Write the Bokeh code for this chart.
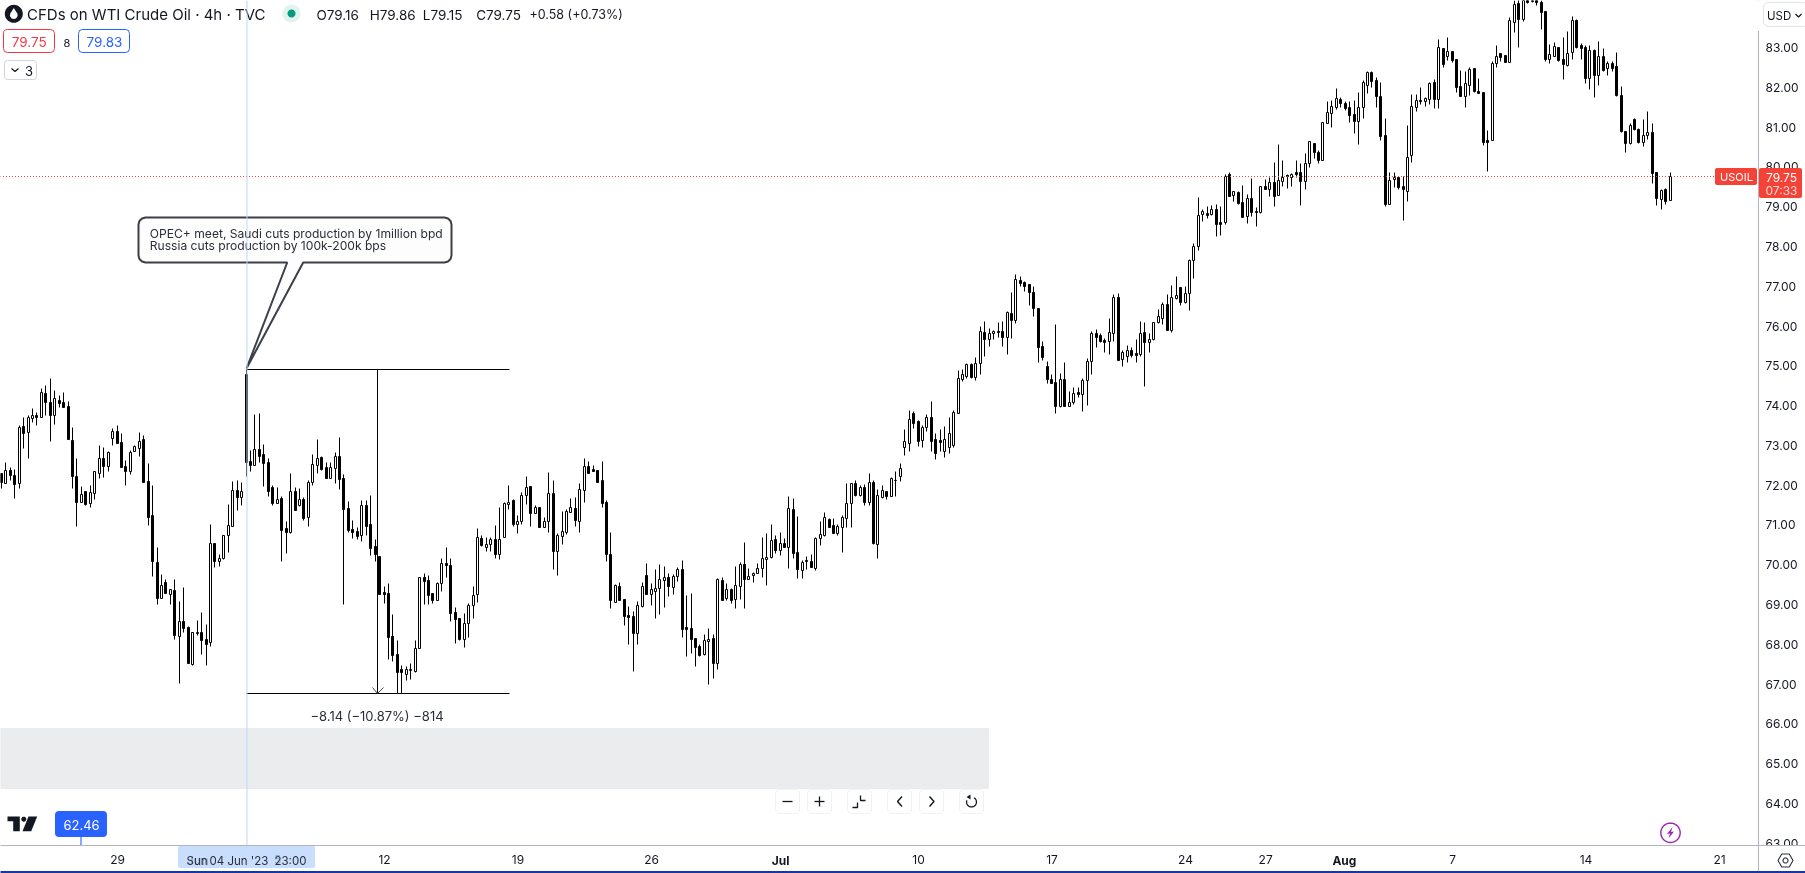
import math
from bokeh.plotting import figure
from bokeh.embed import file_html
from bokeh.resources import INLINE
from bokeh.models import (LinearAxis, FixedTicker, Label, BoxAnnotation, PolyAnnotation,
                          ColumnDataSource, NumeralTickFormatter)

highs = [
72.29,72.57,72.44,72.39,73.50,73.69,73.75,73.92,73.83,74.42,
74.50,74.68,74.38,74.25,74.33,74.10,73.44,72.67,71.97,71.85,
71.99,72.34,73.00,72.94,72.85,73.42,73.50,73.30,72.62,72.87,
72.99,73.32,73.25,72.54,71.99,70.43,69.75,69.63,69.37,69.63,
69.08,69.43,68.45,68.31,68.60,68.80,68.50,71.01,70.53,70.25,
70.74,71.51,72.09,72.13,72.08,74.90,72.86,73.78,73.80,73.02,
72.67,71.99,71.94,71.72,71.08,72.29,71.95,71.91,71.70,72.13,
72.77,73.16,72.71,72.57,72.57,72.82,73.21,72.26,71.58,71.11,
70.94,71.61,71.61,71.74,70.63,70.21,69.45,69.53,68.75,68.10,
67.47,67.44,67.51,68.10,69.67,69.77,69.73,69.29,69.55,70.17,
70.43,70.15,68.92,68.66,68.78,69.02,69.45,70.90,70.73,70.68,
70.69,70.99,71.44,71.56,71.99,71.63,71.24,71.82,72.22,71.97,
71.49,71.45,71.20,72.32,72.13,70.78,71.34,71.38,71.67,71.68,
72.03,72.67,72.60,72.49,72.38,72.60,71.61,70.81,69.51,69.55,
69.12,68.95,68.83,69.07,69.55,70.03,69.52,69.88,70.01,69.95,
69.77,69.75,69.92,70.11,69.22,69.28,68.14,67.99,68.25,68.39,
68.26,69.66,69.67,69.52,69.40,69.95,70.05,70.56,69.90,69.80,
70.02,70.69,70.79,71.01,70.73,70.81,70.65,71.72,71.66,71.21,
70.11,70.21,70.26,70.68,71.09,71.31,71.16,71.16,71.00,71.23,
72.03,72.05,72.12,71.98,72.02,72.29,72.13,71.88,71.99,71.83,
72.19,72.34,72.55,73.39,73.88,73.85,73.63,73.50,73.78,74.11,
73.30,73.40,73.47,73.69,73.88,74.88,74.91,75.07,75.07,75.20,
76.00,76.11,75.95,75.89,76.09,76.11,76.36,76.84,77.30,77.25,
77.12,77.04,76.99,76.44,75.61,75.11,74.77,76.04,74.80,75.08,
74.36,74.45,74.45,74.67,75.18,75.86,75.91,75.80,75.68,76.19,
76.79,76.82,75.38,75.51,75.45,75.66,76.11,76.09,75.80,76.10,
76.42,76.58,76.79,77.02,77.25,76.98,76.99,77.66,78.07,79.23,
78.94,79.00,79.03,79.05,79.00,79.81,79.85,79.38,79.37,79.52,
79.30,79.71,78.99,79.50,79.68,79.74,80.10,80.55,80.16,79.82,
79.83,80.16,80.08,80.33,80.65,80.59,80.42,81.12,81.64,81.67,
81.97,81.74,81.64,81.64,81.67,81.86,82.16,82.40,82.40,82.24,
82.11,81.21,79.87,79.87,79.77,79.76,81.03,81.81,81.81,81.99,
81.75,82.12,82.20,83.20,82.97,83.25,82.90,82.70,82.42,82.40,
82.50,82.47,82.21,81.87,80.91,82.65,83.05,82.84,82.80,83.75,
84.18,84.22,84.35,84.40,84.45,84.40,84.18,83.90,83.07,83.12,
83.00,83.26,83.41,83.79,83.70,83.09,83.05,83.04,82.96,83.14,
82.97,82.66,82.65,82.87,82.02,80.89,81.10,81.21,80.96,81.18,
81.38,81.10,79.86,79.42,79.46,79.86]

body_tops = [
72.29,72.36,72.36,72.24,73.44,73.47,73.69,73.74,73.74,74.32,
74.31,74.08,74.17,74.14,74.08,73.98,73.12,72.22,71.76,71.83,
71.81,72.34,72.66,72.66,72.81,73.34,73.34,73.07,72.47,72.81,
72.96,73.11,73.15,72.09,71.24,70.06,69.47,69.55,69.37,69.35,
68.57,68.57,68.42,68.29,68.29,68.29,68.11,70.53,70.53,70.17,
70.73,70.98,71.86,71.87,71.83,74.78,72.59,72.89,72.90,72.76,
72.56,71.93,71.63,71.66,70.90,71.83,71.83,71.65,71.64,72.08,
72.51,72.66,72.70,72.44,72.44,72.71,72.71,72.16,71.41,70.88,
70.83,71.48,71.48,71.00,70.45,70.20,69.30,69.29,68.19,67.74,
67.36,67.36,67.37,67.89,69.67,69.67,69.60,69.28,69.54,70.02,
70.02,69.98,68.79,68.64,68.53,68.97,69.24,70.68,70.65,70.50,
70.63,70.63,70.64,71.53,71.57,71.61,71.10,71.73,71.93,71.96,
71.43,71.43,71.10,71.78,71.78,70.73,70.83,71.33,71.43,71.41,
71.88,72.47,72.47,72.39,72.36,72.12,71.56,70.27,69.47,69.45,
69.12,68.72,68.69,68.97,69.45,69.72,69.37,69.41,69.62,69.67,
69.67,69.70,69.87,69.87,68.42,68.39,68.14,67.94,68.09,68.13,
68.14,69.62,69.60,69.37,69.37,69.47,70.00,70.00,69.71,69.79,
69.90,70.15,70.19,70.60,70.63,70.53,70.53,71.41,71.38,70.30,
70.05,70.11,70.07,70.65,70.75,71.18,71.15,70.98,70.95,71.20,
71.53,72.03,72.03,71.93,71.94,72.08,72.08,71.73,71.86,71.83,
72.17,72.13,72.42,73.10,73.64,73.79,73.60,73.44,73.69,73.70,
73.15,73.12,73.15,73.30,73.82,74.67,74.77,75.03,75.03,75.07,
75.85,75.84,75.80,75.86,75.86,75.86,76.34,76.31,77.17,77.14,
77.09,77.04,76.84,76.44,75.48,74.98,74.66,74.58,74.65,74.66,
74.07,74.30,74.33,74.62,75.10,75.80,75.80,75.75,75.64,75.83,
76.71,76.71,75.33,75.38,75.39,75.30,75.80,75.84,75.65,76.08,
76.23,76.53,76.53,76.71,76.76,76.97,76.81,77.65,77.99,78.79,
78.88,78.82,78.92,78.92,78.60,79.77,79.80,79.37,79.35,79.10,
79.20,79.20,78.88,79.50,79.50,79.61,79.61,79.65,79.74,79.78,
79.81,79.85,79.85,80.08,80.63,80.58,80.35,81.11,81.36,81.51,
81.71,81.69,81.59,81.49,81.31,81.48,82.11,82.37,82.37,82.17,
81.77,80.78,79.67,79.74,79.74,79.50,80.23,81.51,81.66,81.68,
81.71,82.09,82.11,82.99,82.97,82.90,82.89,82.69,82.02,82.09,
82.45,82.46,81.89,81.86,80.66,82.61,82.77,82.84,82.79,83.67,
84.08,84.10,84.18,84.30,84.35,84.32,84.14,83.90,82.82,83.02,
82.99,82.69,82.84,83.67,83.68,83.05,83.00,82.92,82.92,82.77,
82.77,82.61,82.59,82.51,81.80,80.88,81.03,81.19,80.94,80.78,
80.86,80.86,79.85,79.40,79.42,79.75]

body_bottoms = [
72.08,72.05,72.25,72.02,72.03,73.31,73.32,73.68,73.71,73.71,
74.09,73.76,73.76,74.06,73.96,73.14,72.23,71.57,71.57,71.51,
71.53,71.78,72.30,72.47,72.48,73.18,73.06,72.45,72.35,72.35,
72.84,72.91,72.08,71.20,70.07,69.16,69.14,69.29,69.26,68.21,
68.19,68.41,67.53,67.49,68.27,68.10,68.00,68.05,70.09,70.09,
70.16,70.73,70.97,71.70,71.70,72.58,72.50,72.50,72.73,72.55,
71.85,71.55,71.55,70.87,70.82,70.81,71.37,71.49,71.17,71.18,
72.08,72.49,72.39,72.18,72.18,72.41,72.15,71.40,70.86,70.81,
70.71,70.73,70.97,70.42,70.27,69.26,69.26,68.18,67.73,67.30,
67.28,67.25,67.35,67.33,67.89,69.59,69.24,69.11,69.11,69.54,
69.99,68.78,68.63,68.12,68.13,68.53,68.97,69.26,70.49,70.44,
70.50,70.27,70.27,70.68,71.52,71.02,71.02,71.10,71.73,71.30,
71.30,70.94,70.94,71.10,70.34,70.34,70.72,70.82,71.32,71.12,
71.10,71.87,72.30,72.35,72.08,71.55,70.27,69.09,69.06,69.11,
68.71,68.68,68.28,68.28,68.96,69.26,69.26,69.34,69.41,69.61,
69.45,69.44,69.71,68.38,68.38,68.13,67.93,67.72,67.75,68.08,
67.53,67.53,69.09,69.16,69.10,69.12,69.46,69.64,69.64,69.74,
69.79,69.91,70.14,70.18,70.37,70.37,70.44,70.44,70.29,69.89,
69.86,70.07,69.94,69.91,70.67,70.74,70.94,70.79,70.79,70.94,
71.17,71.53,71.74,71.73,71.57,71.57,70.53,70.52,71.70,71.72,
71.72,72.12,72.22,72.95,73.05,73.56,73.10,73.12,73.44,73.10,
72.80,73.08,72.85,72.95,73.00,73.81,74.66,74.73,74.71,74.71,
75.07,75.66,75.67,75.80,75.84,75.72,75.72,76.14,76.15,77.08,
77.00,76.85,76.45,75.47,75.22,74.66,74.56,73.98,73.98,73.98,
73.99,74.09,74.29,74.29,74.62,75.12,75.72,75.61,75.59,75.62,
75.82,75.14,75.17,75.24,75.26,75.27,75.29,75.59,75.59,75.65,
76.10,76.20,75.90,75.90,76.68,76.60,76.60,76.83,77.64,77.99,
78.81,78.78,78.81,78.56,78.56,78.59,79.26,79.29,79.09,78.73,
78.76,78.86,78.86,78.85,79.44,79.44,79.26,79.29,79.63,79.75,
79.74,79.81,79.64,79.64,80.08,80.36,80.16,80.17,81.10,81.35,
81.50,81.60,81.47,81.29,81.14,81.15,81.50,82.04,82.15,81.78,
80.77,79.06,79.06,79.69,79.48,79.42,79.39,80.28,81.48,81.64,
81.64,81.70,81.70,81.70,82.58,82.78,82.67,81.99,81.77,81.77,
82.05,81.90,81.85,80.62,80.62,80.67,82.61,82.76,82.63,82.63,
83.64,83.71,83.70,84.14,84.15,84.12,83.89,82.70,82.71,82.78,
82.68,82.58,82.56,82.87,82.99,82.98,82.21,82.21,82.29,82.29,
82.42,82.48,82.47,81.80,80.88,80.58,80.58,80.93,80.60,80.60,
80.80,79.84,79.21,79.19,79.13,79.16]

lows = [
71.91,72.03,72.12,71.67,71.92,72.91,72.66,73.58,73.50,73.69,
73.75,73.11,73.53,73.96,73.96,73.14,71.91,70.95,71.57,71.50,
71.45,71.65,72.18,72.20,72.35,73.00,73.06,72.45,72.00,72.28,
72.84,72.73,72.08,70.99,69.71,68.99,69.14,69.29,68.99,68.13,
67.01,68.30,67.53,67.48,68.21,67.75,67.48,67.95,69.94,69.96,
70.14,70.30,70.97,71.36,71.50,72.23,72.35,72.50,72.58,71.97,
71.71,71.50,71.55,70.09,70.29,70.79,71.37,71.47,71.11,70.96,
72.00,72.30,72.37,72.18,72.18,72.03,71.90,68.99,70.82,70.66,
70.64,70.59,70.74,70.24,70.07,69.26,69.02,67.62,67.58,66.76,
66.76,67.09,67.12,67.28,67.89,69.01,69.01,69.03,69.11,69.34,
69.69,68.58,68.03,68.10,67.93,68.18,68.66,69.04,70.47,70.33,
70.33,70.17,70.14,70.68,71.39,70.95,70.79,71.01,71.52,70.96,
71.30,70.94,70.94,70.82,69.89,69.74,70.52,70.77,71.32,70.97,
70.81,71.56,72.30,72.34,72.08,71.45,70.07,68.91,69.06,69.11,
68.48,68.00,67.33,68.00,68.93,69.26,68.98,68.66,68.75,68.93,
69.20,69.25,69.58,68.16,67.70,67.78,67.45,67.70,67.73,67.00,
67.15,67.38,69.09,69.09,69.03,68.91,69.13,68.91,69.62,69.56,
69.79,69.68,69.48,70.17,70.28,70.23,70.44,69.91,70.16,69.66,
69.66,69.88,69.94,69.86,70.49,70.72,70.94,70.78,70.74,70.31,
70.94,70.94,71.72,71.72,71.48,71.49,70.51,70.16,71.67,71.65,
71.72,71.72,72.10,72.75,72.85,73.42,72.98,72.95,73.35,72.85,
72.65,72.85,72.70,72.80,72.95,73.81,74.61,74.69,74.69,74.63,
74.78,75.23,75.49,75.66,75.72,75.49,75.28,75.69,76.06,76.99,
76.87,76.52,76.24,75.08,75.13,74.56,74.56,73.80,73.96,73.98,
73.99,74.03,74.20,73.86,74.00,74.78,75.47,75.59,75.34,75.28,
75.62,75.14,74.98,75.08,75.22,75.08,75.23,74.48,75.34,75.64,
76.07,76.04,75.90,75.84,76.67,76.52,76.57,76.39,77.19,77.90,
78.63,78.70,78.78,78.26,78.28,78.56,79.26,79.13,79.05,78.73,
78.58,78.75,78.50,78.84,79.44,79.26,79.00,79.27,79.51,79.46,
79.51,79.74,79.03,79.43,79.98,80.21,80.09,80.17,81.10,80.99,
81.44,81.49,81.42,81.12,80.84,80.56,81.22,81.84,81.99,81.49,
80.66,79.00,79.06,79.48,79.44,78.65,79.13,80.11,81.39,81.58,
81.52,81.57,81.47,81.47,82.50,82.67,82.62,81.87,81.76,81.49,
81.80,81.87,81.85,80.54,79.88,80.67,82.50,82.64,82.63,82.63,
83.38,83.01,83.66,84.10,84.13,84.05,83.44,82.66,82.61,82.78,
82.66,82.20,82.53,82.70,82.98,82.71,82.10,81.95,81.75,82.04,
82.39,82.30,82.40,81.78,80.86,80.37,80.57,80.92,80.58,80.50,
80.69,79.59,79.04,78.94,79.06,79.15]

directions = ("bwbbwbwwbw" "bbwbbbbbwb" "wwwbwwbbbw" "wwbbbbwbwb" "wbbwwbbwbw"
              "wwwbwbbwbb" "bbwbbwbwbw" "wwbbwwbbbb" "bwbbbbbbbb" "bwwwwbbbww"
              "bbbbwwwwbw" "wbwwwbwwwb" "wbwwbwwwwb" "wwbbbbbbwb" "bbbwwbwwww"
              "bwwbbbbbww" "bwbwbwwbww" "wwwwbwbwbb" "wbbwwwbbww" "wwbwbwbwwb"
              "wwwwwbbwwb" "bbwwwwwwbw" "wbwwbbwbwb" "bbbbbbbbwb" "wwbwwwbbbw"
              "wbwwbbwbww" "wwbwwbwwww" "wbwbbwbwbb" "wbbwbwbwwb" "wbbwwbbwww"
              "wbbbbwwwbb" "bbwwbbwwwb" "wwbwbwbbbw" "wbbbbwwbbw" "wbwbwbbbww"
              "bbwwbbbwbw" "bwbbbbwbbw" "wbbwbw")

price_ticks = list(range(63, 84))
time_ticks = [26, 62, 86, 116, 146, 206, 236, 266, 284, 326, 356, 386]
time_labels = ["29", "5", "12", "19", "26", "10", "17", "24", "27", "7", "14", "21"]
month_ticks = [44, 175, 301.7]
month_labels = ["Jun", "Jul", "Aug"]
last_price = 79.75
measure_high = 74.90
measure_low = 66.76

W, H = 1805, 873
FW, FH = 1758, 845
PX0, PXS = 1.33, 4.45
PPU = 39.79


def BX(px):
    return (px - PX0) / PXS


def BY(py):
    return 83 - (py - 47) / PPU


def PY(price):
    return 47 + (83 - price) * PPU


FIXED = {"position": "fixed", "left": "0px", "top": "0px"}
p = figure(width=W, height=H, output_backend="svg", toolbar_location=None,
           x_range=(BX(0), BX(FW)), y_range=(BY(FH), BY(0)),
           x_axis_location=None, y_axis_location=None,
           min_border_left=0, min_border_top=0, min_border_right=W - FW, min_border_bottom=H - FH,
           tools="", background_fill_color="white", border_fill_color="white",
           outline_line_color=None)
p.styles = FIXED
p.grid.visible = False

# overlay in page pixels for everything that sits over the scales
q = figure(width=W, height=H, output_backend="svg", toolbar_location=None,
           x_range=(0, W), y_range=(H, 0), x_axis_location=None, y_axis_location=None,
           min_border_left=0, min_border_top=0, min_border_right=0, min_border_bottom=0,
           tools="", background_fill_color=None, border_fill_color=None, outline_line_color=None)
q.styles = FIXED
q.grid.visible = False

FONT = "Inter"
AXC = "#b2b5be"
INK = "#131722"

ya = LinearAxis(ticker=FixedTicker(ticks=price_ticks), formatter=NumeralTickFormatter(format="0.00"),
                major_tick_line_color=None, minor_tick_line_color=None, axis_line_color=AXC,
                major_tick_out=0, major_tick_in=0,
                major_label_text_font=FONT, major_label_text_font_size="12px", major_label_text_color=INK,
                major_label_standoff=7)
p.add_layout(ya, "right")
xa = LinearAxis(ticker=FixedTicker(ticks=time_ticks),
                major_label_overrides={t: l for t, l in zip(time_ticks, time_labels)},
                major_tick_line_color=None, minor_tick_line_color=None, axis_line_color=AXC,
                major_tick_out=0, major_tick_in=0,
                major_label_text_font=FONT, major_label_text_font_size="12px", major_label_text_color=INK,
                major_label_standoff=9)
p.add_layout(xa, "below")


def box(x0, y0, x1, y1, fill, line=None, r=0, lw=1):
    d = 0 if line else 0.5
    b = BoxAnnotation(left=x0 - d, right=x1 - d, top=y0 - d, bottom=y1 - d, fill_color=fill, fill_alpha=1,
                      line_color=line, line_alpha=1 if line else 0, line_width=lw, border_radius=r)
    q.add_layout(b)
    return b


def poly(pts, fill=None, line=None, lw=1.0):
    a = PolyAnnotation(xs=[c[0] for c in pts], ys=[c[1] for c in pts],
                       fill_color=fill if fill else "white", fill_alpha=1 if fill else 0,
                       line_color=line if line else "white", line_alpha=1 if line else 0, line_width=lw)
    q.add_layout(a)
    return a


def path(pts, line=INK, lw=1.0):
    return poly(list(pts) + list(pts[-2:0:-1]), None, line, lw)


def circle(cx, cy, r, fill=None, line=None, lw=1.0, n=36):
    pts = [(cx + r * math.cos(2 * math.pi * k / n), cy + r * math.sin(2 * math.pi * k / n)) for k in range(n)]
    return poly(pts, fill, line, lw)


def T(x, y, text, size=13.0, color=INK, align="left", style="normal"):
    q.add_layout(Label(x=x, y=y, text=text, text_font=FONT, text_font_size=f"{size}px", text_color=color,
                       text_align=align, text_baseline="middle", text_font_style=style))


# candles, snapped to the pixel grid the way the original renderer does
xs = [BX(math.floor(PX0 + PXS * i)) for i in range(len(highs))]


def snap(price):
    return BY(round(PY(price)))


up = [d == "w" for d in directions]
src = ColumnDataSource(dict(
    x=xs,
    h=[snap(v) for v in highs],
    l=[snap(v) for v in lows],
    t=[snap(v) for v in body_tops],
    b=[snap(v) for v in body_bottoms],
    f=["white" if u else "black" for u in up],
))
p.segment(x0="x", y0="h", x1="x", y1="l", source=src, line_color="black", line_width=1)
p.vbar(x="x", width=2 / PXS, top="t", bottom="b", fill_color="f", line_color="black", line_width=1, source=src)

# last price line: the dash phase starts half a pixel left so each dot fills one whole pixel
p.line(x=[BX(-0.5), BX(FW)], y=[snap(last_price), snap(last_price)], line_color="#f44336", line_width=1,
       line_dash="1 2")

# measure tool
y_hi, y_lo = round(PY(measure_high)), round(PY(measure_low))
xl, xr, xm = BX(246), BX(509), BX(377)
p.segment(x0=[xl, xl], x1=[xr, xr], y0=[BY(y_hi), BY(y_lo)], y1=[BY(y_hi), BY(y_lo)],
          line_color="black", line_width=1)
p.segment(x0=[xm], x1=[xm], y0=[BY(y_hi)], y1=[BY(y_lo)], line_color="black", line_width=1)
p.line(x=[BX(372), xm, BX(383)], y=[BY(y_lo - 6), BY(y_lo), BY(y_lo - 6)], line_color="#444444", line_width=1)

# background shade
box(0, 728, 989, 789, "#ebecee")
T(376.5, 715.5, "\u22128.14 (\u221210.87%) \u2212814", 13, "#2a2e39", "center")

# callout
cx0, cy0, cx1, cy1, rad = 138, 217, 451, 262, 7


def arc(cx, cy, a0):
    return [(cx + rad * math.cos(math.radians(a0 + d)), cy + rad * math.sin(math.radians(a0 + d))) for d in (0, 30, 60, 90)]


outline = (arc(cx0 + rad, cy0 + rad, 180) + arc(cx1 - rad, cy0 + rad, 270) + arc(cx1 - rad, cy1 - rad, 0)
           + [(302.7, cy1), (246, 368), (286.7, cy1)] + arc(cx0 + rad, cy1 - rad, 90))
poly(outline, "#fdfdfd", "#3c3f47", 2)
T(149.3, 233, "OPEC+ meet, Saudi cuts production by 1million bpd", 12.1, "#2a2e39")
T(149.3, 245, "Russia cuts production by 100k-200k bps", 12.1, "#2a2e39")

# header
circle(13.3, 13.3, 9, "#131722")
poly([(13.3, 7.5), (16.8, 13), (17.2, 15.5), (15.5, 18), (13.3, 18.6), (11.1, 18), (9.4, 15.5), (9.8, 13)], "white")
T(26.5, 13.5, "CFDs on WTI Crude Oil \u00b7 4h \u00b7 TVC", 15)
circle(291, 13, 9, "#e0f3ef")
circle(291, 13, 4, "#089981")
T(316, 14, "O79.16", 13.5)
T(369.3, 14, "H79.86", 13.5)
T(422.3, 14, "L79.15", 13.5)
T(475.7, 14, "C79.75", 13.5)
T(529, 14, "+0.58 (+0.73%)", 12.5)
box(3, 29, 54, 52, "white", "#f23645", 4)
T(28.7, 41, "79.75", 13.5, "#f23645", "center")
T(66.5, 42, "8", 11, INK, "center")
box(78, 29, 129, 52, "white", "#2962ff", 4)
T(104, 41, "79.83", 13.5, "#2962ff", "center")
box(4, 60, 36, 79, "white", "#d1d4dc", 3)
path([(11, 68), (14.5, 71), (18, 68)], INK, 1.2)
T(24.5, 70, "3", 13, INK)

# right scale chrome
box(1750, 0, 1806, 31, "white")
box(1763, 2, 1807, 26, "white", "#e0e3eb", 5)
T(1766.5, 15, "USD", 11.5, INK)
path([(1795, 13.5), (1798, 16.5), (1801, 13.5)], INK, 1.2)

# tags on the last price line
box(1715, 168, 1757, 185, "#f44336", None, 2)
T(1736, 176.5, "USOIL", 11, "white", "center")
box(1759, 168, 1802, 198, "#f44336", None, 2)
T(1781, 176.5, "79.75", 12, "white", "center")
T(1781, 189.5, "07:33", 12, "#ffd6d2", "center")

# time scale chrome
box(1759, 846, 1806, 871, "white")
box(1758, 845, 1806, 846, AXC)
box(1758, 845, 1759, 871, AXC)
box(0, 871, 1806, 874, "#1038a8")
for t, l in zip(month_ticks, month_labels):
    T(PX0 + PXS * t, 860, l, 12, INK, "center", "bold")
box(178, 846, 315, 868, "#bbd4fb", None, 2).fill_alpha = 0.8
T(186, 860, "Sun", 11.5, "#2a2e39")
T(209, 860, "04 Jun '23", 11.5, "#2a2e39")
T(274, 860, "23:00", 11.5, "#2a2e39")

# gear
poly([(1785 + 7.5 * math.cos(math.radians(a)), 860 + 7.5 * math.sin(math.radians(a))) for a in range(0, 360, 60)],
     None, "#2a2e39", 1.1)
circle(1785, 860, 2.5, None, "#2a2e39", 1.1)

# blue price tag near the logo
box(80, 836, 82, 845, "#86a8ff")
box(55, 811, 107, 837, "#2962ff", None, 4)
T(81, 824.5, "62.46", 13, "white", "center")

# logo
poly([(7, 816), (19.3, 816), (19.3, 830.7), (12.7, 830.7), (12.7, 820.7), (7, 820.7)], "#131722")
circle(23.3, 818.7, 2.5, "#131722")
poly([(28, 816), (36.7, 816), (30.7, 830.7), (22, 830.7)], "#131722")

# bolt
circle(1670, 832.3, 9.7, None, "#9c27b0", 1.4)
poly([(1672, 826.5), (1666.5, 833.5), (1669.5, 833), (1668, 838), (1673.5, 831), (1670.5, 831.5)], "#9c27b0")

# navigation buttons
for cx in (787, 819, 859, 899, 931, 971):
    box(cx - 12, 789, cx + 12, 813, "white", "#f0f1f4", 4)
path([(782, 801), (792, 801)], INK, 1.3)
path([(814, 801), (824, 801)], INK, 1.3)
path([(819, 796), (819, 806)], INK, 1.3)
path([(852, 807), (857, 807), (857, 802)], INK, 1.3)
path([(860, 795), (860, 800), (865, 800)], INK, 1.3)
path([(901.5, 796), (897, 801), (901.5, 806)], INK, 1.4)
path([(929, 796), (933.5, 801), (929, 806)], INK, 1.4)
reset = [(971 + 5 * math.cos(math.radians(a)), 801.5 + 5 * math.sin(math.radians(a))) for a in range(-60, 220, 20)]
path(reset, INK, 1.3)
poly([(970, 794), (970, 799), (966, 796.5)], INK)

# crosshair over the drawings, stopping at the time scale
box(246.5, 0, 247.5, 845, "#bbd9fb")

open("out.html", "w").write(file_html([p, q], INLINE))
